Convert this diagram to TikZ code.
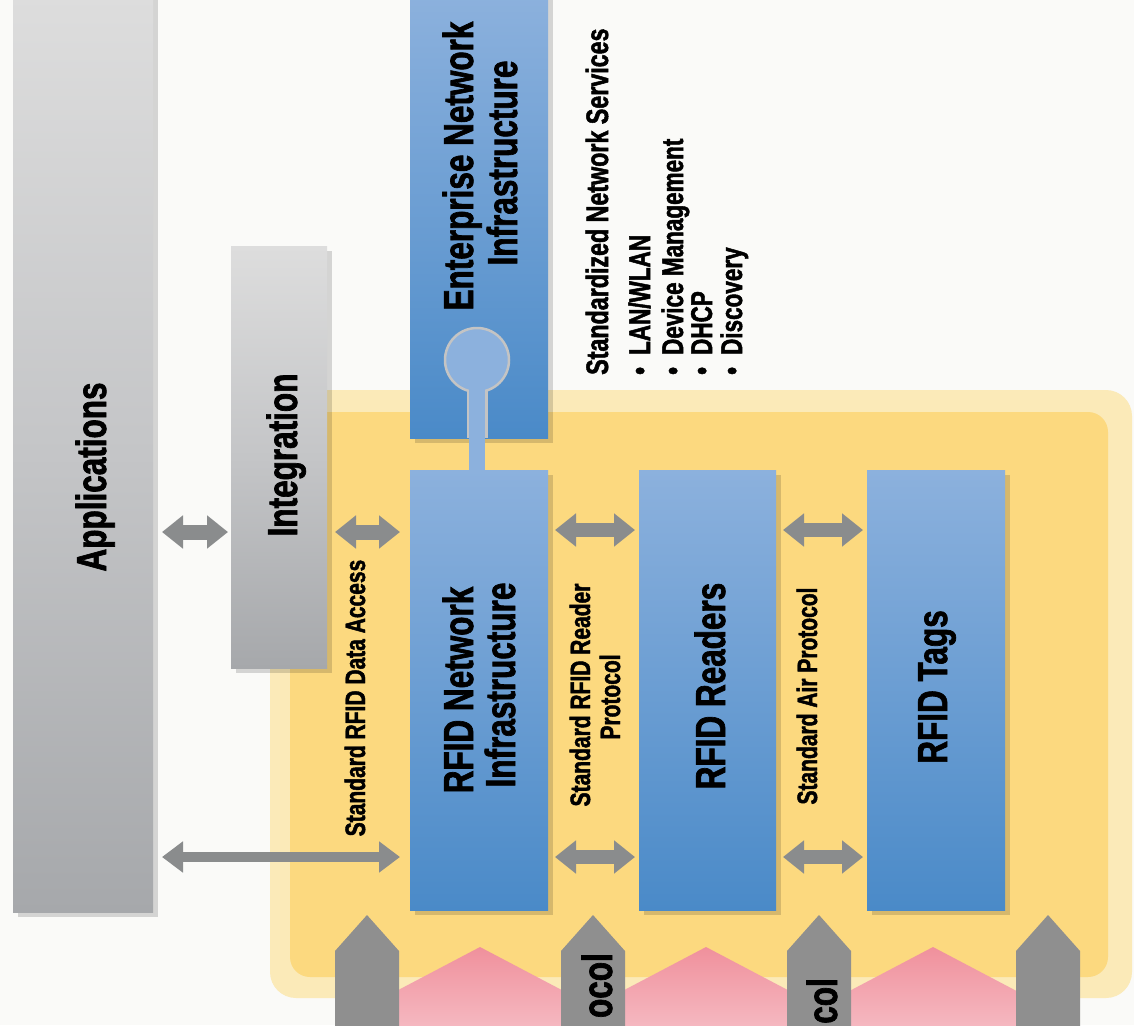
\documentclass[tikz,border=0pt]{standalone}
\usepackage{fontspec}
\setmainfont{Liberation Sans}
\newfontfamily\cond{Liberation Sans}[FakeStretch=0.75,FakeBold=1.6]
\usetikzlibrary{shadows,arrows.meta}
\definecolor{bg}{HTML}{FAFAF8}
\definecolor{yel}{HTML}{FCD97F}
\definecolor{yelband}{HTML}{FBEAB8}
\definecolor{bluetop}{HTML}{8CB1DD}
\definecolor{bluebot}{HTML}{4A8AC8}
\definecolor{graytop}{HTML}{DDDDDD}
\definecolor{graymid}{HTML}{C4C5C7}
\definecolor{graybot}{HTML}{A6A8AB}
\definecolor{arrowgray}{HTML}{8A8C8D}
\definecolor{hatchgray}{HTML}{8F8F8F}
\definecolor{pinktop}{HTML}{F0909C}
\definecolor{pinkbot}{HTML}{F5BAC2}
\definecolor{ringgray}{HTML}{C4C4C4}
\tikzset{
  box/.style={rectangle, inner sep=0pt, outer sep=0pt, anchor=north west},
  shad/.style={drop shadow={shadow xshift=5pt, shadow yshift=-5pt, opacity=.15, fill=black}},
  bluebox/.style={box, shad, top color=bluetop, bottom color=bluebot},
  graybox/.style={box, shad, top color=graytop, bottom color=graybot, middle color=graymid},
  big/.style={font=\cond\bfseries\fontsize{42}{42}\selectfont, rotate=90, anchor=base, inner sep=0pt},
  small/.style={font=\cond\bfseries\fontsize{28}{28}\selectfont, rotate=90, anchor=base, inner sep=0pt},
  svc/.style={font=\cond\bfseries\fontsize{31}{31}\selectfont, rotate=90, anchor=base west, inner sep=0pt},
  item/.style={font=\cond\bfseries\fontsize{30}{30}\selectfont, rotate=90, anchor=base west, inner sep=0pt},
  dblarrow/.style={arrowgray, line width=15pt, {Triangle[length=21pt,width=32pt]}-{Triangle[length=21pt,width=32pt]}},
  thinarrow/.style={arrowgray, line width=10pt, {Triangle[length=21pt,width=30pt]}-{Triangle[length=21pt,width=30pt]}}
}
\begin{document}
\begin{tikzpicture}[x=1pt,y=-1pt]
\useasboundingbox (0,0) rectangle (1134,1025);
\clip (0,0) rectangle (1134,1025);
\fill[bg] (0,0) rectangle (1134,1025);
% yellow panel
\fill[yelband, rounded corners=26pt] (270,390) rectangle (1132,998);
\fill[yel, rounded corners=20pt] (290,412) rectangle (1108,977);
% gray boxes
\node[graybox, minimum width=140pt, minimum height=917pt] (app) at (13,-5) {};
\node[graybox, minimum width=96pt, minimum height=422pt] (int) at (231,246) {};
% bottom pink and gray shapes
\foreach \c in {480,706,933}{
  \shade[top color=pinktop, bottom color=pinkbot] (\c-95,1030) -- (\c-95,997) -- (\c,947) -- (\c+95,997) -- (\c+95,1030) -- cycle;
}
\foreach \c in {367,593,819,1048}{
  \fill[hatchgray] (\c-32,1030) -- (\c-32,951) -- (\c,915) -- (\c+32,951) -- (\c+32,1030) -- cycle;
}
% blue boxes
\node[bluebox, minimum width=138pt, minimum height=443pt] (ent) at (410,-5) {};
\node[bluebox, minimum width=138pt, minimum height=440pt] (net) at (410,470) {};
\node[bluebox, minimum width=137pt, minimum height=440pt] (rdr) at (639,470) {};
\node[bluebox, minimum width=138pt, minimum height=440pt] (tag) at (867,470) {};
% keyhole connector
\coordinate (hubc) at (477,360);
\draw[ringgray, line width=21pt] (hubc) -- (hubc |- ent.south);
\node[circle, minimum size=64pt, inner sep=0pt, fill=bluetop, draw=ringgray, line width=2.5pt] (hub) at (hubc) {};
\draw[bluetop, line width=16pt] (hub.center) -- (hub.center |- net.north);
% arrows
\coordinate (ya) at (0,532);
\coordinate (yb) at (0,857);
\coordinate (yc) at (0,530);
\draw[dblarrow, shorten <=9pt, shorten >=3pt] (app.east |- ya) -- (int.west |- ya);
\draw[dblarrow, shorten <=8pt, shorten >=10pt] (int.east |- ya) -- (net.west |- ya);
\draw[thinarrow, shorten <=9pt, shorten >=10pt] (app.east |- yb) -- (net.west |- yb);
\draw[dblarrow, line width=14pt, shorten <=7pt, shorten >=4pt] (net.east |- yc) -- (rdr.west |- yc);
\draw[dblarrow, line width=14pt, shorten <=7pt, shorten >=4pt] (net.east |- yb) -- (rdr.west |- yb);
\draw[dblarrow, line width=14pt, shorten <=7pt, shorten >=4pt] (rdr.east |- yc) -- (tag.west |- yc);
\draw[dblarrow, line width=14pt, shorten <=7pt, shorten >=4pt] (rdr.east |- yb) -- (tag.west |- yb);
% box labels
\node[big] (appl) at (106,477) {Applications};
\node[big] (intl) at (297,455) {Integration};
\node[big] (entl1) at (473,166) {Enterprise Network};
\node[big] (entl2) at (517,163) {Infrastructure};
\node[big] (netl1) at (473,690) {RFID Network};
\node[big] (netl2) at (515,685) {Infrastructure};
\node[big] (rdrl) at (725,686) {RFID Readers};
\node[big] (tagl) at (947,687) {RFID Tags};
% interface labels
\node[small] (dal) at (365,698) {Standard RFID Data Access};
\node[small] (rpl1) at (590,695) {Standard RFID Reader};
\node[small] (rpl2) at (620,697) {Protocol};
\node[small] (apl) at (817,696) {Standard Air Protocol};
% services
\node[svc] (sns) at (608,375) {Standardized Network Services};
\node[item] (s1) at (650,375) {•\hspace{12pt}LAN/WLAN};
\node[item] (s2) at (683,375) {•\hspace{12pt}Device Management};
\node[item] (s3) at (712,375) {•\hspace{12pt}DHCP};
\node[item] (s4) at (742,375) {•\hspace{12pt}Discovery};
% truncated texts at bottom
\node[big, anchor=base east] (oc) at (612,953) {ocol};
\node[big, anchor=base east] (co) at (837,978) {col};
\end{tikzpicture}
\end{document}
